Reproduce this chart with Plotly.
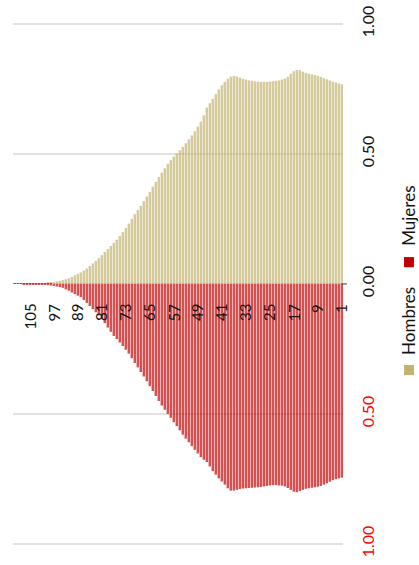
import plotly.graph_objects as go

# Ages (single years) and share of the population (%) by sex
edades = list(range(1, 111))

hombres = [
    0.768, 0.771, 0.775, 0.778, 0.783, 0.787, 0.791, 0.796, 0.800, 0.803,
    0.806, 0.809, 0.812, 0.817, 0.822, 0.823, 0.818, 0.808, 0.797, 0.790,
    0.786, 0.783, 0.781, 0.779, 0.778, 0.777, 0.777, 0.777, 0.778, 0.779,
    0.781, 0.783, 0.786, 0.789, 0.793, 0.798, 0.800, 0.797, 0.789, 0.777,
    0.764, 0.748, 0.730, 0.712, 0.695, 0.678, 0.648, 0.624, 0.605, 0.587,
    0.571, 0.556, 0.541, 0.527, 0.514, 0.502, 0.490, 0.476, 0.462, 0.445,
    0.428, 0.411, 0.393, 0.374, 0.354, 0.336, 0.318, 0.300, 0.284, 0.268,
    0.250, 0.232, 0.215, 0.199, 0.184, 0.170, 0.158, 0.146, 0.134, 0.123,
    0.111, 0.099, 0.089, 0.079, 0.069, 0.059, 0.051, 0.044, 0.038, 0.033,
    0.027, 0.022, 0.018, 0.015, 0.012, 0.010, 0.008, 0.006, 0.0045, 0.0035,
    0.0025, 0.002, 0.0015, 0.001, 0.0007, 0.0005, 0.0003, 0.0002, 0.0001, 0.0001,
]

mujeres = [
    0.745, 0.748, 0.751, 0.755, 0.761, 0.767, 0.772, 0.777, 0.780, 0.782,
    0.784, 0.786, 0.788, 0.792, 0.797, 0.801, 0.799, 0.792, 0.785, 0.779,
    0.776, 0.775, 0.774, 0.774, 0.775, 0.777, 0.779, 0.781, 0.782, 0.783,
    0.784, 0.785, 0.786, 0.787, 0.789, 0.792, 0.795, 0.795, 0.786, 0.772,
    0.760, 0.748, 0.734, 0.720, 0.702, 0.685, 0.676, 0.666, 0.652, 0.638,
    0.624, 0.609, 0.595, 0.580, 0.563, 0.547, 0.532, 0.515, 0.500, 0.484,
    0.468, 0.450, 0.431, 0.412, 0.393, 0.374, 0.356, 0.339, 0.321, 0.304,
    0.286, 0.268, 0.253, 0.239, 0.225, 0.212, 0.200, 0.184, 0.168, 0.151,
    0.133, 0.121, 0.109, 0.097, 0.085, 0.073, 0.062, 0.051, 0.045, 0.039,
    0.033, 0.026, 0.021, 0.015, 0.012, 0.010, 0.008, 0.006, 0.0045, 0.0035,
    0.0025, 0.002, 0.0015, 0.001, 0.0008, 0.0005, 0.0003, 0.0002, 0.0001, 0.0001,
]

etiquetas_edad = [1, 9, 17, 25, 33, 41, 49, 57, 65, 73, 81, 89, 97, 105]
valores_eje = [-1.0, -0.5, 0.0, 0.5, 1.0]
textos_eje = ["1.00", "0.50", "0.00", "0.50", "1.00"]

COLOR_H = "#c2b26c"
COLOR_M = "#c00000"
FUENTE = "Lato, Open Sans, sans-serif"

fig = go.Figure()
fig.add_trace(go.Bar(x=edades, y=hombres, name="Hombres",
                     marker=dict(color=COLOR_H, line_width=0), opacity=0.68))
fig.add_trace(go.Bar(x=edades, y=[-v for v in mujeres], name="Mujeres",
                     marker=dict(color=COLOR_M, line_width=0), opacity=0.68))

# Right-hand value axis: negative side labelled in red
ticktext = []
for v, t in zip(valores_eje, textos_eje):
    ticktext.append(f"<span style='color:#ff0000'>{t}</span>" if v < 0 else t)

# Age labels hang just below the zero line
anot = []
for e in etiquetas_edad:
    anot.append(dict(x=e, y=0, xref="x", yref="y", text=str(e), showarrow=False,
                     textangle=-90, xanchor="center", yanchor="top", yshift=-18,
                     font=dict(family=FUENTE, size=15, color="#111")))

# Legend drawn rotated along the right edge
anot.append(dict(x=1.2, y=0.432, xref="paper", yref="paper", text="Hombres",
                 showarrow=False, textangle=-90, xanchor="center", yanchor="middle",
                 font=dict(family=FUENTE, size=17, color="#111")))
anot.append(dict(x=1.2, y=0.618, xref="paper", yref="paper", text="Mujeres",
                 showarrow=False, textangle=-90, xanchor="center", yanchor="middle",
                 font=dict(family=FUENTE, size=17, color="#111")))
shapes = [
    dict(type="rect", xref="paper", yref="paper", x0=1.185, x1=1.215, y0=0.336, y1=0.354,
         fillcolor=COLOR_H, line_width=0),
    dict(type="rect", xref="paper", yref="paper", x0=1.185, x1=1.215, y0=0.527, y1=0.545,
         fillcolor=COLOR_M, line_width=0),
    # short dark tick where the zero line meets the right edge
    dict(type="line", xref="paper", yref="y", x0=0.995, x1=1.012, y0=0, y1=0,
         line=dict(color="#333", width=1)),
]

fig.update_layout(
    width=419, height=565,
    margin=dict(l=13, r=76, t=0, b=0),
    paper_bgcolor="white", plot_bgcolor="white",
    barmode="relative", bargap=0.38,
    showlegend=False,
    annotations=anot, shapes=shapes,
    font=dict(family=FUENTE),
)
fig.update_xaxes(range=[110.5, 0.5], showgrid=False, showticklabels=False,
                 zeroline=False, showline=False, ticks="")
fig.update_yaxes(side="right", range=[-1.081, 1.092], tickvals=valores_eje,
                 ticktext=ticktext, tickangle=-90,
                 tickfont=dict(family=FUENTE, size=16, color="#111"),
                 showgrid=True, gridcolor="#e3e3e3", gridwidth=1.5,
                 zeroline=True, zerolinecolor="#d6d6d6", zerolinewidth=1,
                 showline=False, ticks="", ticklabelstandoff=14)

fig.write_html("out.html")
